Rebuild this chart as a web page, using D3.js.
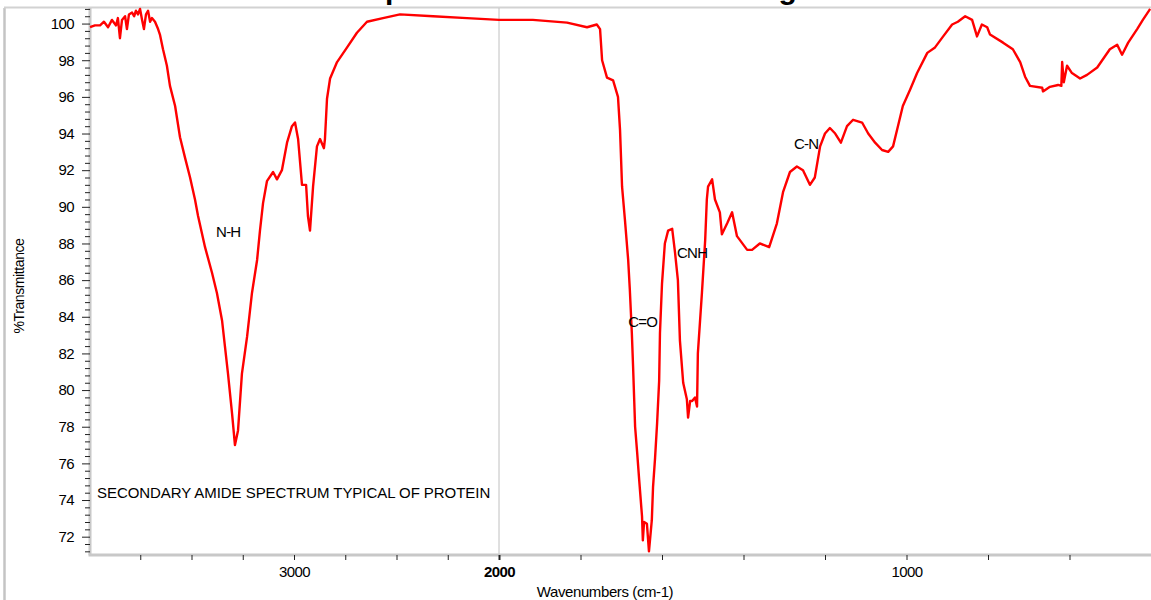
<!DOCTYPE html>
<html>
<head>
<meta charset="utf-8">
<script src="https://cdn.jsdelivr.net/npm/d3@7/dist/d3.min.js"></script>
<style>
    body { margin: 0; background: #fff; }
    text { font-family: "Liberation Sans", Arial, sans-serif; }
</style>
</head>
<body>
<div id="irChart"></div>
<script>
    /* spectrum (cm-1 , %T) */
    var wavenumber = [3995, 3971, 3946, 3927, 3907, 3888, 3868, 3859, 3849, 3839, 3824, 3815, 3805, 3790, 3780, 3771, 3761, 3751, 3741, 3732,
        3722, 3712, 3702, 3693, 3678, 3663, 3654, 3639, 3620, 3605, 3580, 3556, 3532, 3507, 3483, 3468, 3434, 3400, 3376, 3351,
        3337, 3322, 3302, 3288, 3273, 3254, 3229, 3205, 3180, 3166, 3151, 3132, 3102, 3083, 3059, 3034, 3010, 2995, 2980, 2961,
        2941, 2932, 2922, 2907, 2888, 2873, 2854, 2849, 2839, 2824, 2790, 2741, 2693, 2644, 2566, 2483, 2322, 2156, 2000, 1917,
        1833, 1784, 1760, 1752, 1747, 1735, 1720, 1708, 1703, 1698, 1691, 1683, 1679, 1674, 1671, 1666, 1661, 1656, 1649, 1647,
        1644, 1637, 1632, 1625, 1622, 1617, 1612, 1607, 1605, 1600, 1593, 1585, 1575, 1568, 1561, 1556, 1548, 1539, 1536, 1531,
        1526, 1519, 1514, 1512, 1502, 1494, 1490, 1487, 1477, 1470, 1458, 1453, 1440, 1428, 1416, 1391, 1379, 1360, 1337, 1318,
        1303, 1286, 1269, 1254, 1237, 1225, 1212, 1200, 1188, 1175, 1161, 1146, 1131, 1109, 1094, 1077, 1060, 1045, 1033, 1021,
        1009, 991, 974, 949, 930, 910, 888, 874, 856, 839, 827, 815, 802, 795, 763, 739, 721, 709, 697, 667,
        665, 648, 628, 620, 618, 614, 606, 594, 574, 557, 532, 501, 483, 471, 456, 434, 420, 402];

    var transmittance = [99.8, 99.9, 99.9, 100.1, 99.8, 100.2, 99.9, 100.3, 99.2, 100.2, 100.4, 99.7, 100.5, 100.6, 100.4, 100.7, 100.5, 100.8, 100.2, 99.7,
        100.5, 100.7, 100.1, 100.3, 100.1, 99.7, 99.4, 98.6, 97.7, 96.6, 95.5, 93.8, 92.7, 91.6, 90.4, 89.5, 87.8, 86.4, 85.3, 83.8,
        82.4, 80.9, 78.7, 77.0, 77.8, 80.9, 82.9, 85.3, 87.1, 88.7, 90.2, 91.4, 91.9, 91.5, 92.0, 93.5, 94.4, 94.6, 93.7, 91.2,
        91.2, 89.5, 88.7, 91.1, 93.3, 93.7, 93.2, 93.7, 95.9, 97.0, 97.9, 98.7, 99.5, 100.1, 100.3, 100.5, 100.4, 100.3, 100.2, 100.2,
        100.05, 99.8, 99.95, 99.7, 98.0, 97.05, 96.9, 96.0, 94.2, 91.1, 89.3, 87.1, 85.5, 83.1, 81.3, 78.0, 76.6, 75.1, 73.1, 71.8,
        72.8, 72.7, 71.2, 72.9, 74.7, 76.3, 78.2, 80.5, 83.1, 85.8, 88.0, 88.7, 88.8, 87.5, 86.0, 82.7, 80.4, 79.5, 78.5, 79.4,
        79.4, 79.6, 79.1, 82.0, 85.3, 88.2, 90.4, 91.1, 91.5, 90.4, 89.7, 88.5, 89.1, 89.7, 88.4, 87.65, 87.65, 88.0, 87.8, 89.1,
        90.8, 91.9, 92.2, 92.0, 91.2, 91.6, 93.3, 94.0, 94.3, 94.0, 93.5, 94.4, 94.75, 94.6, 94.0, 93.5, 93.1, 93.0, 93.3, 94.4,
        95.5, 96.4, 97.3, 98.4, 98.7, 99.3, 99.95, 100.1, 100.4, 100.2, 99.3, 99.95, 99.8, 99.4, 98.96, 98.6, 97.9, 97.1, 96.6, 96.5,
        96.3, 96.55, 96.65, 96.6, 97.9, 96.8, 97.7, 97.3, 97.0, 97.2, 97.6, 98.6, 98.85, 98.3, 98.96, 99.7, 100.2, 100.8];

    var yTickValues = [72, 74, 76, 78, 80, 82, 84, 86, 88, 90, 92, 94, 96, 98, 100];
    var xTickValues = [3000, 2000, 1000];
    var xMinorValues = [3750, 3500, 3250, 2750, 2500, 2250, 1800, 1600, 1400, 1200, 800, 600];

    var peakNames = ["N-H", "C=O", "CNH", "C-N"];
    var peakWn = [3380, 1683, 1563, 1276];
    var peakT = [88.36, 83.44, 87.21, 93.16];

    var noteText = "SECONDARY AMIDE SPECTRUM TYPICAL OF PROTEIN";
    var noteWn = 3961, noteT = 74.11;

    var titleText = "Infrared Spectrum of a Protein Coating";

    var chart = {
        width: 1151,
        height: 600,
        left: 90,
        right: 1151,
        top: 8,
        bottom: 555,
        split: 499   /* scale doubles below 2000 cm-1 */
    };

    var svg = d3.select("#irChart")
        .append("svg")
        .attr("width", chart.width)
        .attr("height", chart.height);

    /* x axis is piecewise: 4000-2000 compressed, 2000-400 expanded */
    var x = d3.scaleLinear()
        .domain([4000, 2000, 400])
        .range([chart.left - 1, chart.split, chart.right]);

    var y = d3.scaleLinear()
        .domain([71, 100.85])
        .range([chart.bottom, chart.top]);

    /* frame lines */
    svg.append("line")
        .attr("x1", 4.5).attr("x2", 4.5)
        .attr("y1", chart.top).attr("y2", chart.height)
        .style("stroke", "#c4c4c4")
        .style("stroke-width", 2.5);

    svg.append("line")
        .attr("x1", 4).attr("x2", chart.width)
        .attr("y1", 7.5).attr("y2", 7.5)
        .style("stroke", "#d2d2d2")
        .style("stroke-width", 2);

    /* title, mostly above the visible area */
    svg.append("text")
        .attr("x", 245)
        .attr("y", -1)
        .text(titleText)
        .style("font-size", "30px")
        .style("font-weight", "bold")
        .style("fill", "#000");

    /* vertical line at 2000 */
    svg.append("line")
        .attr("x1", x(2000)).attr("x2", x(2000))
        .attr("y1", chart.top).attr("y2", chart.bottom)
        .style("stroke", "#c0c0c0")
        .style("stroke-width", 1);

    /* y axis */
    var yMinor = d3.range(71.2, 100.9, 0.4).filter(function (v) {
        return Math.abs(v - Math.round(v)) > 0.05 || Math.round(v) % 2 != 0;
    });

    var yAxisMinor = svg.append("g")
        .attr("transform", "translate(" + chart.left + ",0)")
        .call(d3.axisLeft(y).tickValues(yMinor).tickSize(5).tickFormat(""));
    yAxisMinor.select(".domain")
        .style("stroke", "#c8c8c8")
        .style("stroke-width", 3)
        .attr("d", "M0," + chart.top + "V" + chart.bottom);
    yAxisMinor.selectAll(".tick line").style("stroke", "#222");

    var yAxis = svg.append("g")
        .attr("transform", "translate(" + chart.left + ",0)")
        .call(d3.axisLeft(y).tickValues(yTickValues).tickSize(8).tickPadding(8));
    yAxis.select(".domain").remove();
    yAxis.selectAll(".tick line").style("stroke", "#222");
    yAxis.selectAll("text")
        .style("font-size", "15px")
        .style("letter-spacing", "-0.6px")
        .style("fill", "#000");

    /* x axis */
    var xAxisMinor = svg.append("g")
        .attr("transform", "translate(0," + chart.bottom + ")")
        .call(d3.axisBottom(x).tickValues(xMinorValues).tickSize(5).tickFormat(""));
    xAxisMinor.select(".domain")
        .style("stroke", "#c8c8c8")
        .style("stroke-width", 3)
        .attr("d", "M" + (chart.left - 1.5) + ",0H" + chart.right);
    xAxisMinor.selectAll(".tick line").style("stroke", "#222");

    var xAxis = svg.append("g")
        .attr("transform", "translate(0," + chart.bottom + ")")
        .call(d3.axisBottom(x).tickValues(xTickValues).tickSize(5).tickPadding(6).tickFormat(d3.format("d")));
    xAxis.select(".domain").remove();
    xAxis.selectAll(".tick line")
        .style("stroke", "#222")
        .style("stroke-width", function (d) { return d == 2000 ? 2 : 1; });
    xAxis.selectAll("text")
        .style("font-size", "15px")
        .style("letter-spacing", "-0.6px")
        .style("font-weight", function (d) { return d == 2000 ? "bold" : "normal"; })
        .style("fill", "#000");

    /* axis titles */
    svg.append("text")
        .attr("transform", "translate(24,286) rotate(-90)")
        .attr("text-anchor", "middle")
        .text("%Transmittance")
        .style("font-size", "14px")
        .style("letter-spacing", "-0.4px")
        .style("fill", "#000");

    svg.append("text")
        .attr("x", 605)
        .attr("y", 597)
        .attr("text-anchor", "middle")
        .text("Wavenumbers (cm-1)")
        .style("font-size", "15px")
        .style("letter-spacing", "-0.4px")
        .style("fill", "#000");

    /* spectrum line */
    var points = wavenumber.map(function (d, i) {
        return { wn: d, t: transmittance[i] };
    });

    var line = d3.line()
        .x(function (d) { return x(d.wn); })
        .y(function (d) { return y(d.t); });

    svg.append("path")
        .datum(points)
        .attr("d", line)
        .style("fill", "none")
        .style("stroke", "#ff0000")
        .style("stroke-width", 2.4)
        .style("stroke-linejoin", "round");

    /* band labels */
    svg.selectAll("text.peak")
        .data(peakNames)
        .enter()
        .append("text")
        .attr("class", "peak")
        .attr("x", function (d, i) { return x(peakWn[i]); })
        .attr("y", function (d, i) { return y(peakT[i]); })
        .text(function (d) { return d; })
        .style("font-size", "15px")
        .style("letter-spacing", "-0.8px")
        .style("fill", "#000");

    svg.append("text")
        .attr("x", x(noteWn))
        .attr("y", y(noteT))
        .text(noteText)
        .style("font-size", "15px")
        .style("letter-spacing", "-0.05px")
        .style("fill", "#000");
</script>
</body>
</html>
